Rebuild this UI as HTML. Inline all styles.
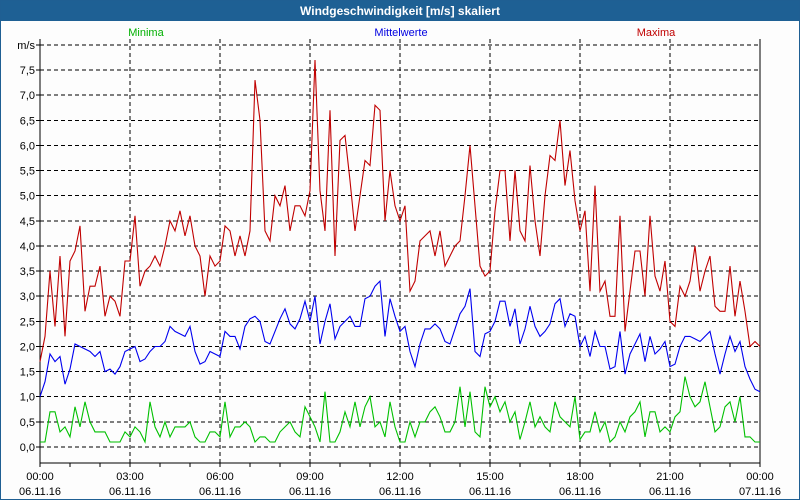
<!DOCTYPE html>
<html><head><meta charset="utf-8"><style>
body{margin:0;background:#fff;}
#w{position:relative;width:798px;height:498px;border:1px solid #1f5f93;background:#fdfdfd;font-family:"Liberation Sans",sans-serif;}
#t{position:absolute;left:0;top:0;width:798px;height:20px;background:#1e6094;color:#fff;font-size:12px;font-weight:bold;text-align:center;line-height:20px;}
</style></head><body>
<div id="w">
<div id="t">Windgeschwindigkeit [m/s] skaliert</div>
<svg id="c" width="798" height="478" style="position:absolute;left:0;top:20px"></svg>
</div>
<script>
const maxima=[1.7,2.2,3.5,2.4,3.8,2.2,3.7,3.9,4.4,2.7,3.2,3.2,3.6,2.6,3.0,2.9,2.6,3.7,3.7,4.6,3.2,3.5,3.6,3.8,3.6,4.0,4.5,4.3,4.7,4.2,4.6,4.0,3.8,3.0,3.8,3.6,3.7,4.4,4.3,3.8,4.2,3.8,4.3,7.3,6.5,4.3,4.1,5.0,4.8,
5.2,4.3,4.8,4.8,4.6,5.1,7.7,5.1,4.3,6.7,3.8,6.1,6.2,5.3,4.3,5.0,5.7,5.6,6.8,6.7,4.5,5.5,4.8,4.5,4.8,3.1,3.3,4.1,4.2,4.3,3.8,4.3,3.6,3.8,4.0,4.1,5.0,6.0,4.8,3.6,3.4,3.5,4.7,5.5,5.5,4.1,5.5,4.3,
4.1,5.6,4.5,3.8,5.0,5.8,5.7,6.5,5.2,5.9,4.9,4.3,4.7,3.1,5.2,3.1,3.3,2.6,2.6,4.6,2.3,3.1,3.9,3.9,3.0,4.6,3.4,3.1,3.7,2.5,2.4,3.2,3.0,3.3,4.0,3.1,3.5,3.8,2.8,2.7,2.7,3.6,2.6,3.3,2.7,2.0,2.1,2.0];
const mittel=[1.0,1.3,1.85,1.7,1.8,1.25,1.55,2.05,2.0,1.95,1.9,1.8,1.9,1.5,1.55,1.45,1.6,1.9,1.95,2.0,1.7,1.75,1.9,2.0,2.0,2.1,2.4,2.3,2.25,2.2,2.4,1.9,1.65,1.7,1.9,1.85,1.8,2.3,2.2,2.2,1.95,2.4,2.55,2.6,2.5,2.1,2.05,2.3,2.55,
2.75,2.45,2.35,2.55,2.9,2.5,3.0,2.05,2.5,2.85,2.15,2.4,2.5,2.6,2.4,2.4,2.95,3.0,3.2,3.3,2.2,2.95,2.6,2.3,2.4,1.9,1.6,2.05,2.35,2.35,2.45,2.35,2.1,2.05,2.35,2.65,2.8,3.15,1.9,1.8,2.25,2.3,2.5,2.9,2.9,2.4,2.75,2.05,
2.35,2.8,2.4,2.2,2.3,2.45,2.85,2.95,2.4,2.65,2.6,2.0,2.2,1.8,2.3,2.0,2.0,1.55,1.6,2.3,1.45,1.85,2.05,2.25,1.7,2.2,1.85,1.95,2.1,1.6,1.65,2.0,2.2,2.2,2.15,2.1,2.2,2.3,1.85,1.45,1.85,2.2,1.9,2.1,1.6,1.35,1.15,1.1];
const minima=[0.1,0.1,0.7,0.7,0.3,0.4,0.2,0.8,0.4,0.9,0.5,0.3,0.3,0.3,0.1,0.1,0.1,0.3,0.2,0.4,0.3,0.1,0.9,0.4,0.2,0.5,0.2,0.4,0.4,0.4,0.5,0.2,0.1,0.1,0.3,0.3,0.2,0.9,0.2,0.4,0.4,0.5,0.4,0.1,0.2,0.2,0.1,0.1,0.3,
0.4,0.5,0.3,0.2,0.8,0.6,0.4,0.1,1.1,0.1,0.1,0.3,0.7,0.4,0.9,0.4,0.8,1.0,0.4,0.5,0.2,0.9,0.4,0.1,0.1,0.5,0.2,0.5,0.5,0.7,0.8,0.6,0.3,0.3,0.5,1.2,0.4,1.1,0.3,0.2,1.2,0.8,1.0,0.7,0.9,0.5,0.7,0.15,
0.5,0.9,0.4,0.6,0.4,0.3,0.9,0.6,0.5,0.4,1.0,0.15,0.3,0.3,0.7,0.3,0.5,0.1,0.2,0.5,0.3,0.6,0.7,0.9,0.2,0.7,0.7,0.3,0.4,0.3,0.6,0.7,1.4,1.0,0.8,0.9,1.3,0.8,0.3,0.4,0.8,0.9,0.5,1.0,0.2,0.2,0.1,0.1];
const yTicks=["0,0","0,5","1,0","1,5","2,0","2,5","3,0","3,5","4,0","4,5","5,0","5,5","6,0","6,5","7,0","7,5"];
const xTimes=["00:00","03:00","06:00","09:00","12:00","15:00","18:00","21:00","00:00"];
const xDates=["06.11.16","06.11.16","06.11.16","06.11.16","06.11.16","06.11.16","06.11.16","06.11.16","07.11.16"];
const NS="http://www.w3.org/2000/svg";
const svg=document.getElementById('c');
const X0=39,X1=759,Y0=426,PER=25.13;
const yS=v=>Y0-v*PER*2;
const xS=(i,n)=>X0+i*(X1-X0)/(n-1);
function mk(tag,a,p){const e=document.createElementNS(NS,tag);for(const k in a)e.setAttribute(k,a[k]);(p||svg).appendChild(e);return e;}
// horizontal grid
for(let i=0;i<=16;i++){const y=yS(i*0.5);
const g=mk('line',{x1:X0,x2:X1,y1:y,y2:y,stroke:'#000','stroke-dasharray':'4,3','stroke-width':1,'shape-rendering':'crispEdges'});


mk('line',{x1:X0-4,x2:X0,y1:y,y2:y,stroke:'#000','shape-rendering':'crispEdges'});
const t=mk('text',{x:X0-5,y:y+4,'text-anchor':'end','font-size':11,fill:'#000','font-family':'Liberation Sans,sans-serif'});
t.textContent=i<16?yTicks[i]:'m/s';

}
// vertical grid
for(let i=0;i<xTimes.length;i++){const x=X0+i*90;
if(i>0&&i<8){const g=mk('line',{x1:x,x2:x,y1:18,y2:Y0+16,stroke:'#000','stroke-dasharray':'4,3','shape-rendering':'crispEdges'});

}
const t=mk('text',{x:x,y:Y0+33,'text-anchor':'middle','font-size':11,fill:'#000','font-family':'Liberation Sans,sans-serif'});
t.textContent=xTimes[i];


const d=mk('text',{x:x,y:Y0+48,'text-anchor':'middle','font-size':11,fill:'#000','font-family':'Liberation Sans,sans-serif'});
d.textContent=xDates[i];

}
for(let h=0;h<=24;h++){const x=X0+h*30;mk('line',{x1:x,x2:x,y1:Y0+16,y2:Y0+20,stroke:'#000','shape-rendering':'crispEdges'});}
// axes
mk('polyline',{points:`${X0},18 ${X0},${Y0+16} ${X1},${Y0+16} ${X1},18`,fill:'none',stroke:'#000','shape-rendering':'crispEdges'});
// legend
[["Minima",145,"#00b000"],["Mittelwerte",400,"#0000e0"],["Maxima",655,"#c00000"]].forEach(l=>{
const t=mk('text',{x:l[1],y:15,'text-anchor':'middle','font-size':11,fill:l[2],'font-family':'Liberation Sans,sans-serif'});
t.textContent=l[0];

});
// series
function series(arr,col,name){const p=arr.map((v,i)=>xS(i,arr.length).toFixed(1)+','+yS(v).toFixed(1)).join(' ');
const e=mk('polyline',{points:p,fill:'none',stroke:col,'stroke-width':1.1});

}
series(maxima,'#c00000','series-maxima');
series(mittel,'#0000f0','series-mittelwerte');
series(minima,'#00c000','series-minima');
</script>
</body></html>
